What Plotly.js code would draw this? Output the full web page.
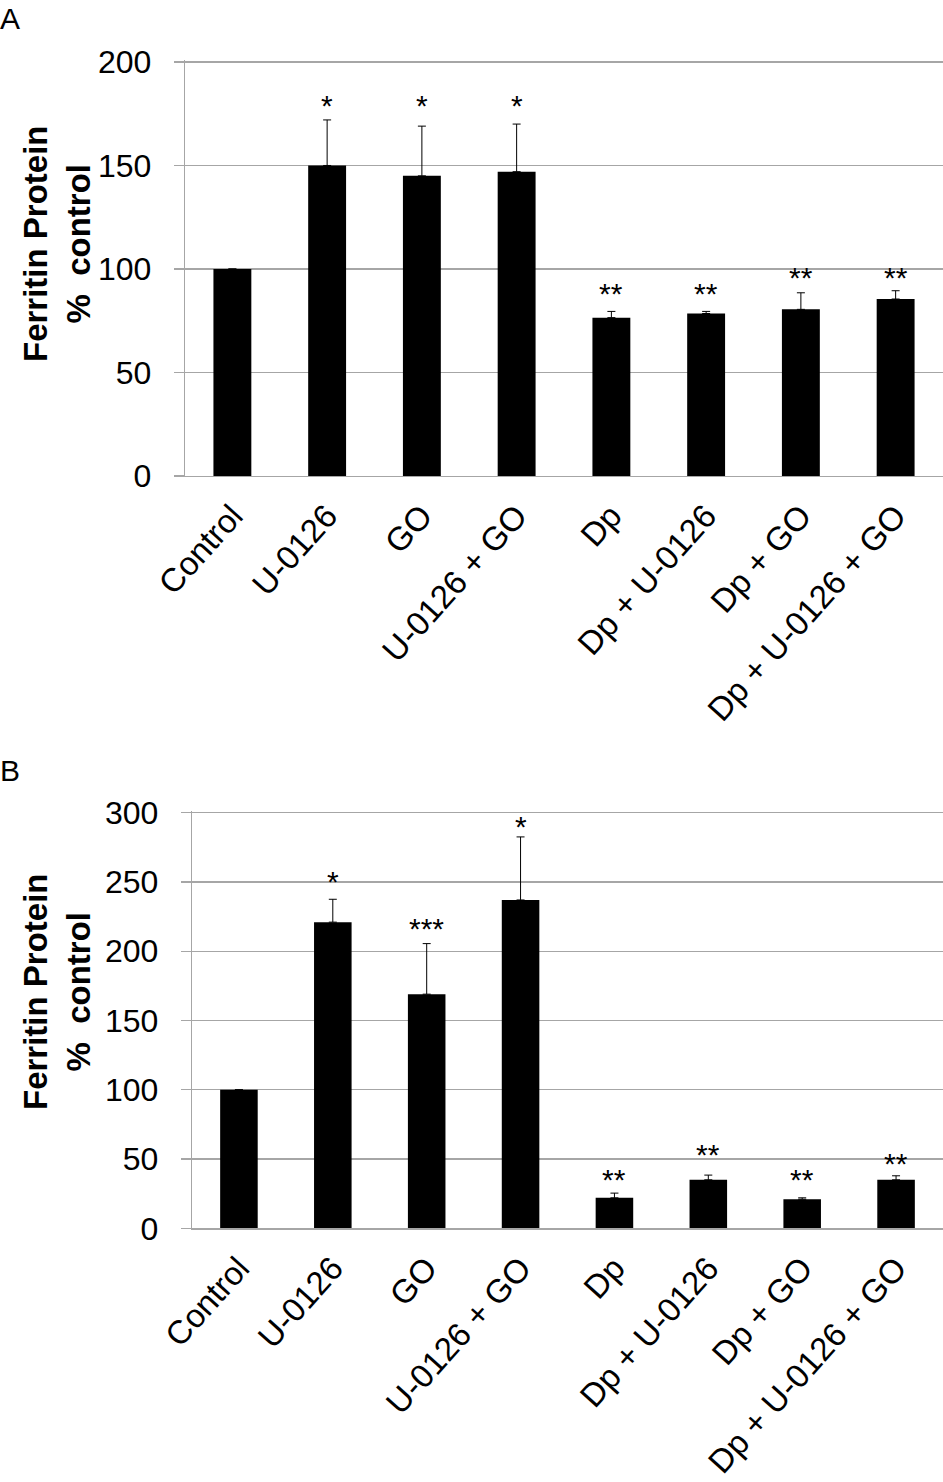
<!DOCTYPE html>
<html>
<head>
<meta charset="utf-8">
<script src="https://cdn.plot.ly/plotly-3.0.1.min.js"></script>
<style>html,body{margin:0;padding:0;background:#fff;}#chart{width:943px;height:1482px;}</style>
</head>
<body>
<div id="chart"></div>
<script>
// Categories (shared by both panels)
const categories = ["Control", "U-0126", "GO", "U-0126 + GO", "Dp", "Dp + U-0126", "Dp + GO", "Dp + U-0126 + GO"];

// Panel A: ferritin protein, % control
const valuesA = [100, 150, 145, 147, 76.5, 78.5, 80.5, 85.5];
const errorsA = [0, 22, 24, 23, 3, 1, 8, 4];
const starsA = ["", "*", "*", "*", "**", "**", "**", "**"];
const starYA = [null, 181, 181, 181, 90, 90, 98, 98];

// Panel B: ferritin protein, % control
const valuesB = [100, 221, 169, 237, 22, 35, 21, 35];
const errorsB = [0, 16.5, 36.5, 45.5, 3.4, 3.4, 1, 2.9];
const starsB = ["", "*", "***", "*", "**", "**", "**", "**"];
const starYB = [null, 253, 219, 293, 38, 56, 38, 50];

const ticksA = [0, 50, 100, 150, 200];
const ticksB = [0, 50, 100, 150, 200, 250, 300];

const FONT = "Liberation Sans, Arial, sans-serif";
const GRID = "#a6a6a6";

function barTrace(vals, errs, xa, ya) {
  return {
    type: "bar",
    x: categories,
    y: vals,
    xaxis: xa,
    yaxis: ya,
    width: 0.4,
    marker: {color: "#000000", line: {width: 0}},
    error_y: {
      type: "data",
      symmetric: false,
      array: errs,
      arrayminus: errs.map(() => 0),
      color: "#000000",
      thickness: 1,
      width: 4,
      visible: true
    },
    hoverinfo: "x+y",
    showlegend: false
  };
}

function starAnn(stars, ys, xref, yref) {
  const out = [];
  stars.forEach((s, i) => {
    if (!s) return;
    out.push({
      x: categories[i], y: ys[i], xref: xref, yref: yref,
      text: s, showarrow: false, yanchor: "middle", xanchor: "center",
      yshift: -4,
      font: {family: FONT, size: 30, color: "#000"}
    });
  });
  return out;
}

function yAxis(domain, range, ticks, anchor) {
  return {
    domain: domain,
    range: range,
    anchor: anchor,
    tickmode: "array",
    tickvals: ticks,
    ticktext: ticks.map(String),
    showgrid: true,
    gridcolor: GRID,
    gridwidth: 1.3,
    zeroline: false,
    showline: true,
    linecolor: GRID,
    linewidth: 1.3,
    ticks: "outside",
    ticklen: 10,
    tickcolor: GRID,
    tickwidth: 1.3,
    ticklabelstandoff: 16,
    tickfont: {family: FONT, size: 32, color: "#000"},
    automargin: false,
    fixedrange: true
  };
}

function xAxis(domain, anchor) {
  return {
    domain: domain,
    anchor: anchor,
    type: "category",
    range: [-0.5, 7.5],
    showgrid: false,
    zeroline: false,
    showline: true,
    linecolor: GRID,
    linewidth: 1.3,
    ticks: "",
    tickangle: -48,
    ticklabelstandoff: 6,
    tickfont: {family: FONT, size: 33, color: "#000"},
    automargin: false,
    fixedrange: true
  };
}

const H = 1482, W = 943;
const data = [
  barTrace(valuesA, errorsA, "x", "y"),
  barTrace(valuesB, errorsB, "x2", "y2")
];

const annotations = [
  {x: 0, y: 1, xref: "paper", yref: "paper", xanchor: "left", yanchor: "top",
   text: "A", showarrow: false, xshift: -2, font: {family: FONT, size: 30, color: "#000"}},
  {x: 0, y: 1 - 752 / H, xref: "paper", yref: "paper", xanchor: "left", yanchor: "top",
   text: "B", showarrow: false, xshift: -2, font: {family: FONT, size: 30, color: "#000"}},
  {x: 57 / W, y: 1 - 244 / H, xref: "paper", yref: "paper", xanchor: "center", yanchor: "middle",
   textangle: -90, text: "<b>Ferritin Protein<br>%  control</b>", showarrow: false,
   font: {family: FONT, size: 33, color: "#000"}},
  {x: 57 / W, y: 1 - 992 / H, xref: "paper", yref: "paper", xanchor: "center", yanchor: "middle",
   textangle: -90, text: "<b>Ferritin Protein<br>%  control</b>", showarrow: false,
   font: {family: FONT, size: 33, color: "#000"}}
].concat(starAnn(starsA, starYA, "x", "y"), starAnn(starsB, starYB, "x2", "y2"));

const layout = {
  width: W,
  height: H,
  margin: {l: 0, r: 0, t: 0, b: 0, pad: 0},
  paper_bgcolor: "#fff",
  plot_bgcolor: "#fff",
  bargap: 0.6,
  xaxis: xAxis([185 / W, 1], "y"),
  yaxis: yAxis([1 - 476 / H, 1 - 59.9 / H], [0, 201], ticksA, "x"),
  xaxis2: xAxis([192 / W, 1], "y2"),
  yaxis2: yAxis([1 - 1228.3 / H, 1 - 810.6 / H], [0, 301.5], ticksB, "x2"),
  annotations: annotations,
  font: {family: FONT, color: "#000"}
};

Plotly.newPlot("chart", data, layout, {displayModeBar: false, staticPlot: true});
</script>
</body>
</html>
